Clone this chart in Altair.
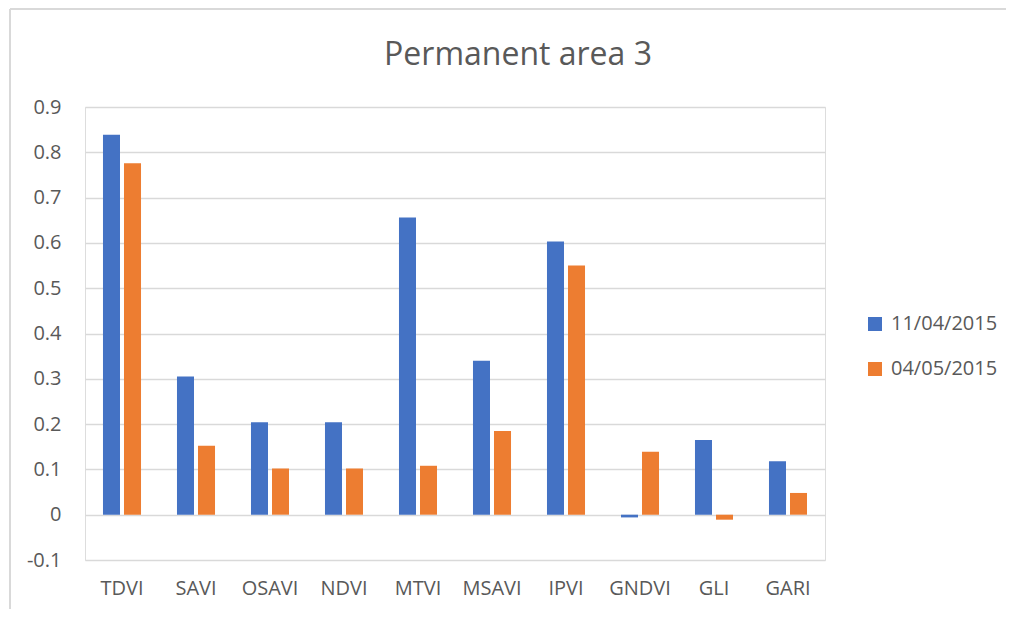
import altair as alt
import pandas as pd

categories = ["TDVI", "SAVI", "OSAVI", "NDVI", "MTVI", "MSAVI", "IPVI", "GNDVI", "GLI", "GARI"]
series_names = ["11/04/2015", "04/05/2015"]
values_s1 = [0.839, 0.305, 0.204, 0.204, 0.656, 0.340, 0.603, -0.006, 0.165, 0.118]
values_s2 = [0.776, 0.152, 0.102, 0.102, 0.108, 0.185, 0.550, 0.139, -0.011, 0.048]
y_ticks = [-0.1, 0, 0.1, 0.2, 0.3, 0.4, 0.5, 0.6, 0.7, 0.8, 0.9]
colors = ["#4472C4", "#ED7D31"]
title_text = ["Permanent area 3"]

rows = []
for c, v in zip(categories, values_s1):
    rows.append({"cat": c, "series": series_names[0], "value": v})
for c, v in zip(categories, values_s2):
    rows.append({"cat": c, "series": series_names[1], "value": v})
df = pd.DataFrame(rows)

FONT = "Open Sans"
TXT = "#595959"
GRID = "#d9d9d9"

bars = alt.Chart(df).mark_bar().encode(
    x=alt.X("cat:N", sort=categories,
            scale=alt.Scale(paddingInner=0.486, paddingOuter=0.243),
            axis=alt.Axis(title=None, labelAngle=0, domain=False, ticks=False,
                          labelFontSize=20, labelColor=TXT, labelFont=FONT,
                          labelPadding=18)),
    xOffset=alt.XOffset("series:N", sort=series_names,
                        scale=alt.Scale(paddingInner=0.19)),
    y=alt.Y("value:Q", scale=alt.Scale(domain=[-0.1, 0.9], nice=False, zero=False),
            axis=alt.Axis(title=None, values=y_ticks, format=".1~f", grid=True,
                          labelExpr="replace(datum.label, '\u2212', '-')",
                          gridColor=GRID, gridWidth=1.5, domain=False, ticks=False,
                          labelFontSize=20, labelColor=TXT, labelFont=FONT,
                          labelPadding=24)),
    color=alt.Color("series:N", sort=series_names,
                    scale=alt.Scale(domain=series_names, range=colors),
                    legend=alt.Legend(title=None, orient="none", legendX=780, legendY=207,
                                      direction="vertical", symbolType="square",
                                      symbolSize=196, symbolStrokeWidth=0,
                                      labelFontSize=20, labelColor=TXT, labelFont=FONT,
                                      rowPadding=25, labelOffset=6)),
)

one = pd.DataFrame({"a": [0]})
top_border = alt.Chart(one).mark_rule(color=GRID, strokeWidth=2).encode(
    x=alt.value(-75), x2=alt.value(930), y=alt.value(-98))
left_border = alt.Chart(one).mark_rule(color=GRID, strokeWidth=2).encode(
    x=alt.value(-75), x2=alt.value(-75), y=alt.value(-98), y2=alt.value(600))

title = alt.Chart(pd.DataFrame({"t": title_text})).mark_text(
    font=FONT, fontSize=32, color=TXT, align="center", baseline="alphabetic"
).encode(text="t:N", x=alt.value(433), y=alt.value(-42))

chart = alt.layer(bars, top_border, left_border, title).properties(
    width=740, height=453,
    padding={"left": 77, "top": 99, "right": 181, "bottom": 49},
    autosize=alt.AutoSizeParams(type="none"),
).configure_view(stroke=None).configure(background="white")

chart.save("out.html", embed_options={"renderer": "svg", "actions": False})
